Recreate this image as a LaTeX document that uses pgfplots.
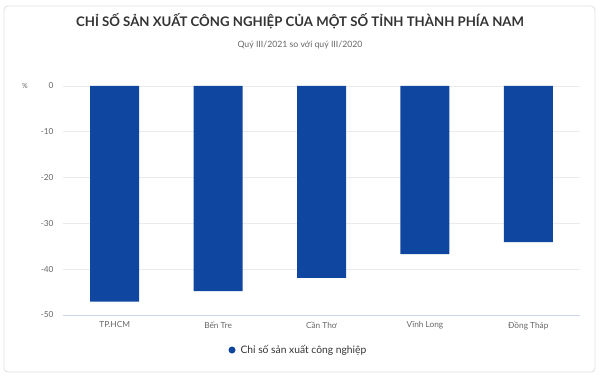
\documentclass[border=0pt]{standalone}
\usepackage{pgfplots}
\pgfplotsset{compat=1.18}
\usepackage{fontspec}
\setmainfont{Lato}
\definecolor{barblue}{RGB}{14,70,160}
\definecolor{gridc}{RGB}{235,235,235}
\definecolor{basec}{RGB}{204,214,235}
\definecolor{txt}{RGB}{51,51,51}
\definecolor{lbl}{RGB}{102,102,102}
\begin{document}
\begin{tikzpicture}[x=1bp,y=1bp]
\path[use as bounding box] (0,0) rectangle (600,378);
\draw[rounded corners=4bp, draw=gray!25, line width=0.8bp] (4,6) rectangle (595,372);
\node[font=\fontsize{13.2bp}{15bp}\selectfont\bfseries, text=txt] at (300,357) {CHỈ SỐ SẢN XUẤT CÔNG NGHIỆP CỦA MỘT SỐ TỈNH THÀNH PHÍA NAM};
\node[font=\fontsize{8.7bp}{10bp}\selectfont, text=lbl] at (300,333) {Quý III/2021 so với quý III/2020};
\node[font=\fontsize{7bp}{8bp}\selectfont, text=lbl] at (25,292) {\%};
\begin{axis}[
  at={(63bp,63bp)}, anchor=south west,
  scale only axis, width=517bp, height=229bp,
  xmin=-0.5, xmax=4.5, ymin=-50, ymax=0,
  ybar, bar width=49bp,
  axis line style={draw=none},
  xtick=data,
  xticklabels={TP.HCM, Bến Tre, Cần Thơ, Vĩnh Long, Đồng Tháp},
  ytick={-50,-40,-30,-20,-10,0},
  ymajorgrids, grid style={gridc, line width=0.8bp},
  major tick length=0pt,
  tick label style={font=\fontsize{8.3bp}{9bp}\selectfont, text=lbl},
  /pgf/number format/assume math mode=true,
  yticklabel style={xshift=-6bp},
  xticklabel style={yshift=-3bp},
  clip=false,
]
\addplot[fill=barblue, draw=none] coordinates {(0,-47.1) (1,-44.8) (2,-41.9) (3,-36.7) (4,-34.1)};
\draw[basec, line width=0.8bp] (axis cs:-0.5,-50) -- (axis cs:4.5,-50);
\end{axis}
\fill[barblue] (232,28) circle (3.5bp);
\node[anchor=west, font=\fontsize{10.3bp}{12bp}\selectfont, text=txt] at (237,28) {Chỉ số sản xuất công nghiệp};
\end{tikzpicture}
\end{document}
